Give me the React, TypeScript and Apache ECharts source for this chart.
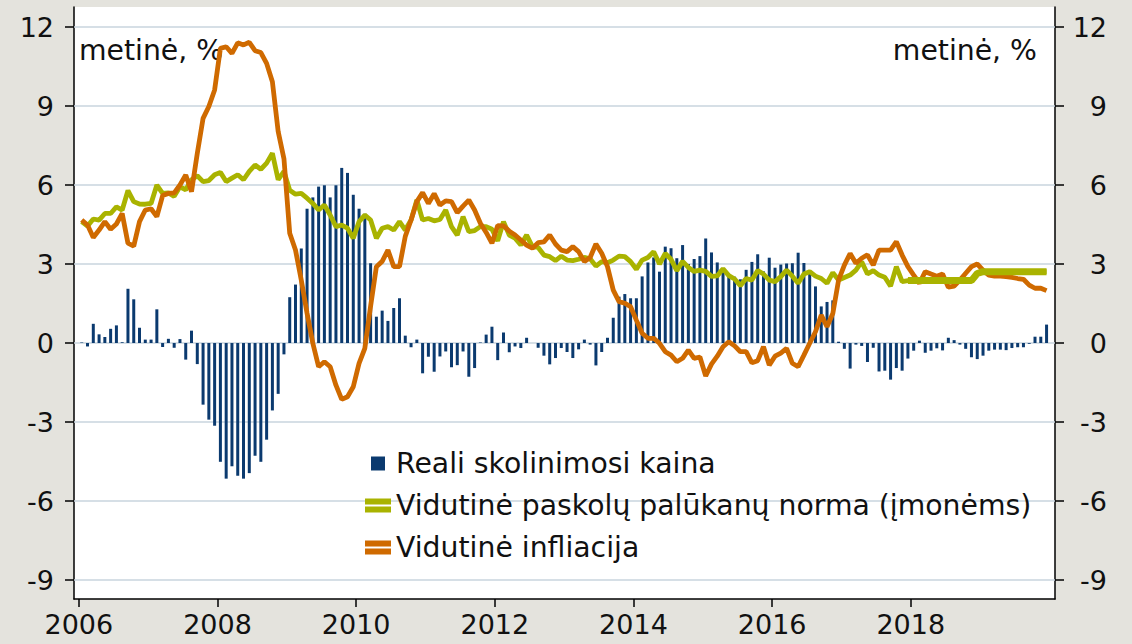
import React, { useEffect, useRef } from "react";
import * as echarts from "echarts";

// ---- data (monthly, Jan 2006 – Dec 2019) ----
const START_YEAR = 2006;
const xTicks = [2006, 2008, 2010, 2012, 2014, 2016, 2018];
const yTicks = [-9, -6, -3, 0, 3, 6, 9, 12];
const seriesNames = [
  "Reali skolinimosi kaina",
  "Vidutinė paskolų palūkanų norma (įmonėms)",
  "Vidutinė infliacija",
];
const unitText = "metinė, %";

const realCost = [
  0.02, -0.13, 0.73, 0.33, 0.23, 0.54, 0.67, 0.03, 2.06, 1.66, 0.58, 0.13,
  0.13, 1.28, -0.15, 0.16, -0.18, 0.15, -0.63, 0.47, -0.8, -2.34, -2.91, -3.14,
  -4.51, -5.15, -4.68, -5.04, -5.15, -4.94, -4.28, -4.51, -3.67, -2.56, -1.93, -0.43,
  1.74, 2.22, 3.59, 5.1, 5.53, 5.94, 5.99, 5.53, 5.99, 6.65, 6.46, 5.63,
  5.1, 4.91, 3.03, 1.0, 1.23, 0.84, 1.33, 1.7, 0.28, -0.16, 0.13, -1.15,
  -0.52, -1.09, -0.51, -0.32, -0.92, -0.84, -0.32, -1.28, -0.95, 0.02, 0.32, 0.62,
  -0.65, 0.4, -0.35, -0.13, -0.19, 0.2, 0.0, -0.18, -0.48, -0.81, -0.57, -0.19,
  -0.34, -0.57, -0.24, 0.13, -0.06, -0.85, -0.34, 0.2, 0.96, 1.76, 1.86, 1.7,
  1.7, 2.53, 3.06, 3.25, 2.71, 3.66, 3.6, 3.22, 3.72, 3.0, 3.19, 3.3,
  3.97, 3.44, 3.06, 2.84, 2.55, 2.52, 2.42, 2.78, 3.08, 3.37, 2.72, 3.24,
  2.86, 2.98, 3.02, 3.03, 3.43, 3.04, 2.75, 2.15, 1.39, 1.56, 1.62, 0.05,
  -0.22, -0.97, -0.06, -0.11, -0.72, -0.18, -1.08, -1.05, -1.39, -0.95, -1.05, -0.59,
  -0.29, 0.09, -0.37, -0.29, -0.2, -0.28, 0.2, 0.11, -0.06, -0.22, -0.54, -0.61,
  -0.48, -0.29, -0.25, -0.25, -0.27, -0.19, -0.16, -0.16, -0.03, 0.24, 0.24, 0.7,
];

const loanRate = [
  4.61, 4.44, 4.71, 4.67, 4.92, 4.92, 5.17, 5.05, 5.79, 5.37, 5.28, 5.27,
  5.3, 6.0, 5.68, 5.7, 5.57, 5.93, 5.82, 6.2, 6.35, 6.13, 6.17, 6.39,
  6.48, 6.13, 6.26, 6.39, 6.2, 6.52, 6.76, 6.6, 6.83, 7.21, 6.2, 6.52,
  5.8, 5.65, 5.68, 5.5, 5.3, 5.05, 5.24, 4.86, 4.42, 4.48, 4.36, 3.98,
  4.61, 4.86, 4.67, 3.98, 4.36, 4.42, 4.29, 4.61, 4.29, 4.67, 5.43, 4.67,
  4.73, 4.64, 4.69, 5.05, 4.42, 4.1, 4.8, 4.23, 4.27, 4.42, 4.42, 4.32,
  3.88, 4.61, 4.1, 3.98, 3.72, 4.1, 3.66, 3.63, 3.34, 3.28, 3.13, 3.3,
  3.15, 3.13, 3.18, 3.25, 3.2, 2.92, 3.09, 3.05, 3.15, 3.3, 3.28, 3.09,
  2.8, 3.15, 3.25, 3.47, 3.0, 3.4, 3.18, 2.75, 3.1, 2.87, 2.72, 2.77,
  2.72, 2.53, 2.55, 2.82, 2.56, 2.43, 2.18, 2.45, 2.39, 2.75, 2.62, 2.39,
  2.33, 2.52, 2.77, 2.54, 2.27, 2.62, 2.71, 2.54, 2.45, 2.27, 2.67, 2.39,
  2.49, 2.58, 2.77, 3.09, 2.62, 2.75, 2.58, 2.5, 2.16, 2.9, 2.33, 2.37,
  2.37, 2.37, 2.37, 2.37, 2.37, 2.37, 2.37, 2.37, 2.37, 2.37, 2.37, 2.64,
  2.71, 2.71, 2.71, 2.71, 2.71, 2.71, 2.71, 2.71, 2.71, 2.71, 2.71, 2.71,
];

const inflation = [
  4.67, 4.48, 4.01, 4.29, 4.61, 4.32, 4.52, 4.92, 3.79, 3.68, 4.61, 5.05,
  5.1, 4.8, 5.6, 5.68, 5.7, 6.0, 6.38, 5.75, 7.2, 8.53, 8.98, 9.61,
  11.19, 11.25, 11.0, 11.4, 11.32, 11.42, 11.1, 11.03, 10.62, 9.92, 8.03, 7.0,
  4.17, 3.53, 2.39, 1.13, -0.01, -0.9, -0.71, -0.9, -1.6, -2.14, -2.04, -1.66,
  -0.77, -0.2, 1.4, 2.9, 3.1, 3.53, 2.9, 2.9, 4.05, 4.67, 5.37, 5.71,
  5.3, 5.67, 5.24, 5.4, 5.37, 4.95, 5.2, 5.43, 5.05, 4.55, 4.2, 3.79,
  4.46, 4.45, 4.25, 4.1, 3.91, 3.72, 3.6, 3.81, 3.84, 4.1, 3.76, 3.53,
  3.47, 3.66, 3.47, 3.09, 3.25, 3.76, 3.41, 2.9, 2.01, 1.57, 1.51, 1.38,
  0.87, 0.37, 0.18, 0.18, -0.01, -0.33, -0.46, -0.71, -0.58, -0.27, -0.58, -0.53,
  -1.25, -0.8, -0.5, -0.14, 0.05, -0.11, -0.33, -0.33, -0.75, -0.67, -0.14, -0.84,
  -0.5, -0.38, -0.2, -0.77, -0.9, -0.46, -0.01, 0.43, 1.06, 0.62, 1.12, 2.39,
  2.96, 3.4, 3.03, 3.22, 3.35, 2.96, 3.53, 3.53, 3.53, 3.85, 3.34, 2.9,
  2.58, 2.27, 2.71, 2.62, 2.54, 2.62, 2.12, 2.16, 2.39, 2.65, 2.9, 3.0,
  2.77, 2.58, 2.54, 2.54, 2.52, 2.49, 2.45, 2.42, 2.2, 2.08, 2.08, 1.99,
];

// month index from which the rate line is drawn as a thicker band
const bandStart = 143;

export default function App() {
  const ref = useRef<HTMLDivElement>(null);

  useEffect(() => {
    document.body.style.margin = "0";
    document.body.style.background = "#e4e3dd";
    const chart = echarts.init(ref.current as HTMLDivElement, null, { renderer: "svg" });

    const font = "'DejaVu Sans', Verdana, sans-serif";
    const xs = realCost.map((_, m) => START_YEAR + (m + 0.5) / 12);
    const pair = (arr: (number | null)[]) => arr.map((v, m) => [xs[m], v]);

    const GREEN = "#a9b300";
    const ORANGE = "#cf6a00";
    const NAVY = "#0b3a6f";
    const axisLine = { color: "#000", width: 1.5 };
    const noBorder = { borderWidth: 0, borderColor: "rgba(0,0,0,0)" };
    const doubleBar = "path://M0,0H26V6H0ZM0,8H26V14H0Z";

    const yAxisFor = (position: "left" | "right") => ({
      type: "value",
      position,
      min: -9.72,
      max: 12.76,
      axisLine: { show: true, onZero: false, lineStyle: axisLine },
      axisTick: { show: true, length: 9, customValues: yTicks, lineStyle: axisLine },
      axisLabel: {
        customValues: yTicks,
        fontSize: 27,
        fontFamily: font,
        color: "#111",
        align: "right",
        margin: position === "left" ? 20 : 52,
        formatter: (v: number) => String(v),
      },
      splitLine: { show: false },
    });

    const option: any = {
      animation: false,
      backgroundColor: "#e4e3dd",
      grid: {
        left: 74,
        right: 77,
        top: 7,
        bottom: 45,
        containLabel: false,
        outerBoundsMode: "none",
        show: true,
        backgroundColor: "#ffffff",
        borderWidth: 0,
      },
      xAxis: {
        type: "value",
        min: 2005.93,
        max: 2020.08,
        axisLine: { show: true, onZero: false, lineStyle: axisLine },
        axisTick: { show: true, length: 8, customValues: xTicks, lineStyle: axisLine },
        axisLabel: {
          customValues: xTicks,
          fontSize: 27,
          fontFamily: font,
          color: "#111",
          margin: 12,
          formatter: (v: number) => String(Math.round(v)),
        },
        splitLine: { show: false },
      },
      yAxis: [yAxisFor("left"), yAxisFor("right")],
      legend: {
        orient: "vertical",
        left: 360,
        top: 443,
        itemWidth: 26,
        itemHeight: 14,
        itemGap: 11,
        selectedMode: false,
        itemStyle: noBorder,
        lineStyle: { width: 0 },
        textStyle: { fontSize: 28.3, fontFamily: font, color: "#111", lineHeight: 31 },
        data: [
          { name: seriesNames[0], icon: "path://M0,0H13V13H0Z", itemStyle: noBorder },
          { name: seriesNames[1], icon: doubleBar, itemStyle: noBorder },
          { name: seriesNames[2], icon: doubleBar, itemStyle: noBorder },
        ],
      },
      graphic: [
        {
          type: "text",
          x: 79,
          y: 50,
          style: {
            text: unitText,
            fontSize: 28.3,
            fontFamily: font,
            fill: "#111",
            align: "left",
            textAlign: "left",
            verticalAlign: "middle",
            textVerticalAlign: "middle",
          },
        },
        {
          type: "text",
          x: 1037,
          y: 50,
          style: {
            text: unitText,
            fontSize: 28.3,
            fontFamily: font,
            fill: "#111",
            align: "right",
            textAlign: "right",
            verticalAlign: "middle",
            textVerticalAlign: "middle",
          },
        },
      ],
      series: [
        {
          type: "bar",
          name: seriesNames[0],
          data: pair(realCost),
          barWidth: 3,
          itemStyle: { color: NAVY },
          z: 2,
          silent: true,
          markLine: {
            silent: true,
            z: 1,
            symbol: ["none", "none"],
            label: { show: false },
            lineStyle: { color: "#c9d4de", width: 1.5, type: "solid" },
            data: yTicks.map((v) => ({ yAxis: v })),
          },
        },
        {
          type: "line",
          name: seriesNames[1],
          data: pair(loanRate),
          showSymbol: false,
          symbol: "none",
          lineStyle: { color: GREEN, width: 4.8 },
          itemStyle: { color: GREEN },
          z: 3,
          silent: true,
        },
        {
          type: "line",
          name: seriesNames[2],
          data: pair(inflation),
          showSymbol: false,
          symbol: "none",
          lineStyle: { color: ORANGE, width: 4.8 },
          itemStyle: { color: ORANGE },
          z: 4,
          silent: true,
        },
        {
          type: "line",
          name: "band",
          data: pair(loanRate.map((v, m) => (m >= bandStart ? v : null))),
          showSymbol: false,
          symbol: "none",
          connectNulls: false,
          lineStyle: { color: GREEN, width: 7 },
          itemStyle: { color: GREEN },
          z: 5,
          silent: true,
        },
      ],
    };

    chart.setOption(option);
    return () => chart.dispose();
  }, []);

  return <div ref={ref} style={{ width: 1132, height: 644 }} />;
}
